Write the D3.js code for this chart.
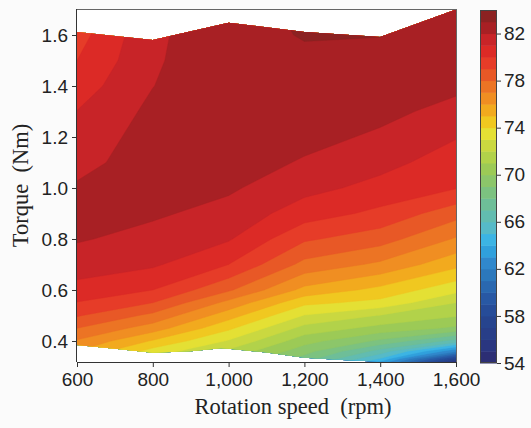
<!DOCTYPE html>
<html>
<head>
<meta charset="utf-8">
<script src="https://cdn.jsdelivr.net/npm/d3@7"></script>
<style>
  html, body { margin: 0; padding: 0; background: #fbfbfb; }
  svg { display: block; }
  .tick text { font-family: "Liberation Sans", Arial, sans-serif; font-size: 19px; fill: #222; }
  .axis path, .axis line { stroke: #333; }
  .title { white-space: pre; }
</style>
</head>
<body>
<svg id="chart" width="531" height="428"></svg>
<script>
// ---- data ----
const speeds = [600, 800, 1000, 1200, 1400, 1600];
const torqueRows = [0.30, 0.33, 0.36, 0.40, 0.45, 0.50, 0.55, 0.60, 0.70, 0.80, 0.90, 1.00, 1.10, 1.20, 1.30, 1.40, 1.50, 1.60, 1.70];
const eff600  = [74.6, 75.3, 76.0, 76.9, 78.0, 79.1, 79.95, 80.7, 81.45, 82.1, 82.4, 82.1, 81.75, 81.4, 81.02, 80.5, 80.0, 79.6, 79.2];
const eff800  = [71.6, 72.6, 73.6, 74.9, 76.5, 77.75, 79.0, 80.0, 81.15, 81.65, 82.15, 82.6, 82.4, 82.41, 82.24, 81.98, 81.85, 81.8, 81.7];
const eff1000 = [69.8, 70.8, 71.8, 72.9, 74.2, 75.45, 76.7, 78.15, 80.0, 81.1, 81.65, 82.15, 82.5, 82.7, 82.8, 82.85, 82.8, 82.7, 82.6];
const eff1200 = [67.5, 68.6, 69.4, 70.4, 71.65, 72.95, 74.25, 75.7, 77.7, 79.15, 80.5, 81.3, 81.9, 82.3, 82.6, 82.75, 82.85, 83.05, 83.2];
const eff1400 = [62.2, 64.9, 66.6, 68.8, 70.65, 71.95, 73.7, 74.7, 76.8, 78.45, 79.75, 80.7, 81.3, 81.85, 82.25, 82.55, 82.8, 83.02, 82.9];
const eff1600 = [51.0, 57.5, 62.2, 66.6, 69.8, 71.1, 72.0, 73.3, 75.3, 76.9, 78.4, 80.05, 80.55, 81.05, 81.7, 82.2, 82.5, 82.7, 82.85];
const effColumns = [eff600, eff800, eff1000, eff1200, eff1400, eff1600];

// measured region boundary (speed, torque)
const topBoundary = [[600, 1.612], [800, 1.580], [1000, 1.648], [1200, 1.612], [1400, 1.592], [1600, 1.700]];
const bottomBoundary = [[600, 0.384], [700, 0.370], [800, 0.354], [900, 0.360], [980, 0.372], [1000, 0.370],
  [1100, 0.355], [1200, 0.334], [1300, 0.325], [1400, 0.319], [1450, 0.318], [1600, 0.318]];

const xTicks = [600, 800, 1000, 1200, 1400, 1600];
const yTicks = [0.4, 0.6, 0.8, 1.0, 1.2, 1.4, 1.6];
const cbTicks = [54, 58, 62, 66, 70, 74, 78, 82];
const levelMin = 54, levelMax = 84;
const bandColors = ["#2c2e74", "#2a3680", "#283e88", "#26448e", "#264c98", "#2858a4", "#2a68b0", "#2c78bc",
  "#3088cc", "#30a0dc", "#3cb4e4", "#56bac8", "#62bcb0", "#6ebe98", "#7cc280", "#8cc66a", "#9cca56",
  "#b2d24a", "#cad840", "#e4e034", "#f0c820", "#f2aa1e", "#f08e22", "#ec7424", "#e85826", "#e63c28",
  "#dc2a26", "#c82428", "#a82024", "#8c2222"];

// ---- layout ----
const svg = d3.select("#chart");
const plot = { left: 77, right: 456, top: 9, bottom: 362 };
const x = d3.scaleLinear().domain([600, 1600]).range([plot.left, plot.right]);
const y = d3.scaleLinear().domain([0.3176, 1.702]).range([plot.bottom, plot.top]);

// ---- contours ----
const n = speeds.length, m = torqueRows.length;
const values = new Array(n * m);
for (let j = 0; j < m; j++) for (let i = 0; i < n; i++) values[j * n + i] = effColumns[i][j];

const thresholds = d3.range(levelMin, levelMax, 1);
const contours = d3.contours().size([n, m]).thresholds(thresholds)(values);

function gridTo(arr, c) {
  const s = Math.max(0, Math.min(arr.length - 1, c - 0.5));
  const i0 = Math.min(arr.length - 2, Math.floor(s));
  const f = s - i0;
  return arr[i0] + (arr[i0 + 1] - arr[i0]) * f;
}
const proj = d3.geoTransform({
  point: function(px, py) { this.stream.point(x(gridTo(speeds, px)), y(gridTo(torqueRows, py))); }
});
const path = d3.geoPath(proj);

const clipPts = topBoundary.concat(bottomBoundary.slice().reverse()).map(d => [x(d[0]), y(d[1])]);
const defs = svg.append("defs");
defs.append("clipPath").attr("id", "region").append("path")
  .attr("d", d3.line()(clipPts) + "Z");

svg.append("rect").attr("x", plot.left).attr("y", plot.top)
  .attr("width", plot.right - plot.left).attr("height", plot.bottom - plot.top).attr("fill", "#ffffff");

const g = svg.append("g").attr("clip-path", "url(#region)");
g.selectAll("path").data(contours).join("path")
  .attr("d", path)
  .attr("fill", d => bandColors[Math.min(bandColors.length - 1, d.value - levelMin)])
  .attr("stroke", d => bandColors[Math.min(bandColors.length - 1, d.value - levelMin)])
  .attr("stroke-width", 0.4);

// frame
svg.append("line").attr("x1", plot.left).attr("x2", plot.right).attr("y1", plot.top + 0.5).attr("y2", plot.top + 0.5)
  .attr("stroke", "#666");
svg.append("line").attr("x1", plot.right + 0.5).attr("x2", plot.right + 0.5).attr("y1", plot.top).attr("y2", plot.bottom)
  .attr("stroke", "#666");

// axes
const xAxis = d3.axisBottom(x).tickValues(xTicks).tickFormat(d3.format(",")).tickSize(5).tickPadding(6);
svg.append("g").attr("class", "axis").attr("transform", `translate(0,${plot.bottom})`).call(xAxis)
  .call(s => s.select(".domain").attr("d", `M${plot.left},0.5H${plot.right}`));
const yAxis = d3.axisLeft(y).tickValues(yTicks).tickFormat(d3.format(".1f")).tickSize(5).tickPadding(4);
svg.append("g").attr("class", "axis").attr("transform", `translate(${plot.left},0)`).call(yAxis)
  .call(s => s.select(".domain").attr("d", `M-0.5,${plot.top}V${plot.bottom}`));

// titles
svg.append("text").attr("class", "title").attr("x", 293).attr("y", 414).attr("text-anchor", "middle")
  .attr("font-family", "'Liberation Serif', 'Times New Roman', serif").attr("font-size", 22.5).attr("fill", "#222")
  .text("Rotation speed  (rpm)");
svg.append("text").attr("class", "title").attr("transform", `translate(28,${(plot.top + plot.bottom) / 2}) rotate(-90)`)
  .attr("text-anchor", "middle")
  .attr("font-family", "'Liberation Serif', 'Times New Roman', serif").attr("font-size", 22.5).attr("fill", "#222")
  .text("Torque  (Nm)");

// colorbar
const cb = { left: 480, width: 17, top: 10, bottom: 363 };
const cy = d3.scaleLinear().domain([levelMin, levelMax]).range([cb.bottom, cb.top]);
const cbg = svg.append("g");
cbg.selectAll("rect").data(thresholds).join("rect")
  .attr("x", cb.left).attr("width", cb.width)
  .attr("y", d => cy(d + 1)).attr("height", d => cy(d) - cy(d + 1) + 0.5)
  .attr("fill", d => bandColors[d - levelMin]);
cbg.append("rect").attr("x", cb.left + 0.5).attr("y", cb.top + 0.5).attr("width", cb.width - 1).attr("height", cb.bottom - cb.top - 1)
  .attr("fill", "none").attr("stroke", "#444");
const cAxis = d3.axisRight(cy).tickValues(cbTicks).tickSize(4).tickPadding(3);
svg.append("g").attr("class", "axis").attr("transform", `translate(${cb.left + cb.width},0)`).call(cAxis)
  .call(s => s.select(".domain").remove());
</script>
</body>
</html>
